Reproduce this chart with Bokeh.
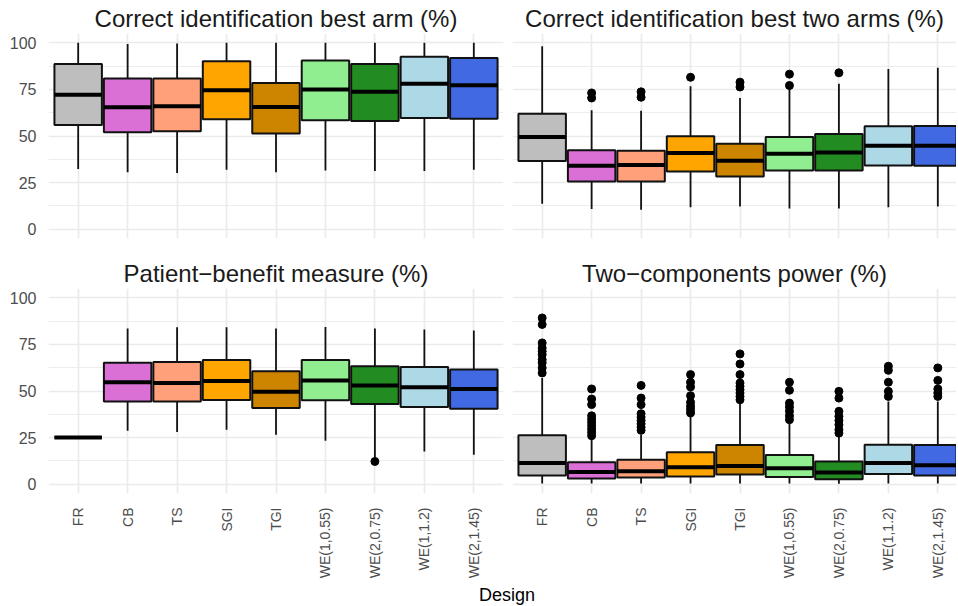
import math
from bokeh.plotting import figure
from bokeh.layouts import column, row
from bokeh.models import FixedTicker, Range1d, Div, Grid, LinearAxis
from bokeh.embed import file_html
from bokeh.resources import INLINE

designs = ["FR", "CB", "TS", "SGI", "TGI", "WE(1,0.55)", "WE(2,0.75)", "WE(1,1.2)", "WE(2,1.45)"]
fills = ["#BEBEBE", "#DA70D6", "#FFA07A", "#FFA500", "#CD8500", "#90EE90", "#228B22", "#ADD8E6", "#4169E1"]

y_ticks = [0, 25, 50, 75, 100]
y_minor = [12.5, 37.5, 62.5, 87.5]

# Panel 1: Correct identification best arm (%)
arm_low = [32.3, 30.5, 30.1, 31.9, 30.5, 31.5, 31.2, 31.2, 31.9]
arm_q1 = [55.9, 52.0, 52.5, 59.0, 51.3, 58.4, 58.1, 59.7, 59.3]
arm_med = [72.2, 65.4, 66.0, 74.6, 65.6, 74.9, 73.8, 78.0, 77.2]
arm_q3 = [88.7, 80.8, 80.8, 90.1, 78.5, 90.5, 88.7, 92.5, 91.8]
arm_high = [100.0, 99.3, 99.6, 100.0, 100.0, 100.0, 100.0, 100.0, 100.0]
arm_out = [[], [], [], [], [], [], [], [], []]

# Panel 2: Correct identification best two arms (%)
two_low = [13.6, 10.8, 10.4, 11.8, 12.2, 11.1, 11.1, 11.8, 12.2]
two_q1 = [36.6, 25.6, 25.6, 31.0, 28.3, 31.5, 31.5, 34.2, 34.1]
two_med = [49.5, 34.1, 34.4, 40.9, 36.7, 40.5, 41.2, 44.8, 44.8]
two_q3 = [62.0, 42.3, 42.1, 49.8, 45.9, 49.5, 51.1, 55.2, 55.4]
two_high = [98.2, 63.8, 63.6, 76.7, 70.4, 75.8, 78.1, 86.0, 86.6]
two_out = [[], [73.1, 70.4], [73.7, 70.8], [81.5], [78.9, 76.3], [83.2, 77.1], [83.9], [], []]

# Panel 3: Patient-benefit measure (%)
pb_low = [25.0, 28.7, 28.0, 29.2, 26.5, 23.3, 14.5, 17.6, 15.8]
pb_q1 = [25.0, 44.4, 44.4, 45.2, 40.9, 45.0, 43.0, 41.4, 40.5]
pb_med = [25.0, 54.7, 54.3, 55.4, 49.6, 55.6, 52.9, 52.0, 51.1]
pb_q3 = [25.0, 65.1, 65.6, 66.7, 60.6, 66.7, 63.3, 62.9, 61.5]
pb_high = [25.0, 83.5, 84.2, 84.2, 83.5, 84.4, 83.5, 83.0, 82.4]
pb_out = [[], [], [], [], [], [], [12.2], [], []]

# Panel 4: Two-components power (%)
pw_low = [0.4, 0.3, 0.3, 0.4, 0.4, 0.3, 0.2, 0.4, 0.4]
pw_q1 = [4.7, 3.0, 3.6, 4.1, 5.2, 3.9, 2.7, 5.4, 4.7]
pw_med = [11.3, 6.5, 7.0, 9.1, 9.7, 8.6, 6.3, 11.3, 10.2]
pw_q3 = [26.2, 11.8, 13.1, 17.2, 21.0, 15.6, 12.2, 21.1, 21.0]
pw_high = [57.0, 25.6, 26.5, 36.7, 43.9, 32.3, 26.5, 44.4, 44.4]
pw_out = [
    [89.2, 85.7, 75.8, 73.1, 71.3, 69.5, 66.8, 65.1, 62.4, 59.7],
    [51.1, 45.7, 42.7, 36.7, 34.9, 33.2, 31.4, 29.6, 27.8, 26.0],
    [53.0, 46.2, 42.7, 37.8, 36.0, 34.2, 32.4, 30.6, 28.9],
    [58.8, 54.7, 52.2, 47.5, 43.9, 41.8, 40.0, 38.2],
    [69.9, 64.5, 58.8, 54.3, 52.5, 50.7, 48.9, 47.1, 45.3],
    [54.7, 50.4, 43.5, 41.4, 39.1, 36.7, 34.6],
    [49.8, 46.2, 39.1, 36.4, 34.2, 31.9, 29.2, 27.4],
    [63.3, 61.1, 54.7, 49.8, 47.1],
    [62.4, 55.7, 51.1, 48.9, 47.1],
]

FONT = "Liberation Sans"
FH = 205
BOX_W = 0.96
GRID_C = "#EBEBEB"
LINE_C = "#111111"


def panel(title, low, q1, med, q3, high, out, left, bottom, frame_w, x_end):
    p = figure(frame_width=frame_w, frame_height=FH,
               x_range=Range1d(0.4, x_end), y_range=Range1d(-5, 105),
               x_axis_location=None, y_axis_location=None,
               toolbar_location=None, output_backend="svg",
               min_border_left=48 if left else 5,
               min_border_right=4 if left else 0,
               min_border_top=0,
               min_border_bottom=0 if bottom else 17)
    p.center = []
    p.outline_line_color = None
    p.background_fill_color = "white"
    p.border_fill_color = "white"

    xs = list(range(1, len(designs) + 1))
    p.add_layout(Grid(dimension=1, ticker=FixedTicker(ticks=y_ticks, minor_ticks=y_minor),
                      grid_line_color=GRID_C, grid_line_width=1.7,
                      minor_grid_line_color=GRID_C, minor_grid_line_width=0.9), "center")
    p.add_layout(Grid(dimension=0, ticker=FixedTicker(ticks=xs),
                      grid_line_color=GRID_C, grid_line_width=1.7), "center")

    if left:
        ax = LinearAxis(ticker=FixedTicker(ticks=y_ticks),
                        major_tick_line_color=None, minor_tick_line_color=None,
                        axis_line_color=None, major_label_standoff=6,
                        major_label_text_font=FONT, major_label_text_font_size="16px",
                        major_label_text_color="#4D4D4D")
        p.add_layout(ax, "left")
    if bottom:
        bx = LinearAxis(ticker=FixedTicker(ticks=xs),
                        major_label_overrides={i + 1: d for i, d in enumerate(designs)},
                        major_tick_line_color=None, minor_tick_line_color=None,
                        axis_line_color=None, major_label_standoff=8,
                        major_label_orientation=math.pi / 2,
                        major_label_text_font=FONT, major_label_text_font_size="14px",
                        major_label_text_color="#4D4D4D")
        p.add_layout(bx, "below")

    # whiskers
    p.segment(x0=xs, y0=q3, x1=xs, y1=high, line_color=LINE_C, line_width=1.8)
    p.segment(x0=xs, y0=q1, x1=xs, y1=low, line_color=LINE_C, line_width=1.8)
    # boxes
    p.vbar(x=xs, width=BOX_W, bottom=q1, top=q3, fill_color=fills,
           line_color=LINE_C, line_width=2)
    # medians
    p.segment(x0=[x - BOX_W / 2 for x in xs], y0=med, x1=[x + BOX_W / 2 for x in xs], y1=med,
              line_color="#000000", line_width=4)
    # outliers
    ox = [x for x, o in zip(xs, out) for _ in o]
    oy = [v for o in out for v in o]
    if ox:
        p.scatter(x=ox, y=oy, size=8, color="#000000")

    p.title.text = title
    p.title.align = "center"
    p.title.text_font = FONT
    p.title.text_font_size = "24px"
    p.title.text_font_style = "normal"
    p.title.text_color = "#1A1A1A"
    p.title.standoff = 4
    return p


LW = 455
RW = 444
x_end_left = 9.6
x_end_right = 0.4 + RW * (9.2 / LW)

p1 = panel("Correct identification best arm (%)", arm_low, arm_q1, arm_med, arm_q3, arm_high, arm_out,
           True, False, LW, x_end_left)
p2 = panel("Correct identification best two arms (%)", two_low, two_q1, two_med, two_q3, two_high, two_out,
           False, False, RW, x_end_right)
p3 = panel("Patient\u2212benefit measure (%)", pb_low, pb_q1, pb_med, pb_q3, pb_high, pb_out,
           True, True, LW, x_end_left)
p4 = panel("Two\u2212components power (%)", pw_low, pw_q1, pw_med, pw_q3, pw_high, pw_out,
           False, True, RW, x_end_right)

div = Div(text='<div style="margin-left:54px;width:896px;text-align:center;font-size:18px;'
               'font-family:\'Liberation Sans\', Arial, sans-serif;color:#000;line-height:18px">Design</div>',
          width=956, height=18)

layout = column(row(p1, p2), row(p3, p4), div)

open("out.html", "w").write(file_html(layout, INLINE))
